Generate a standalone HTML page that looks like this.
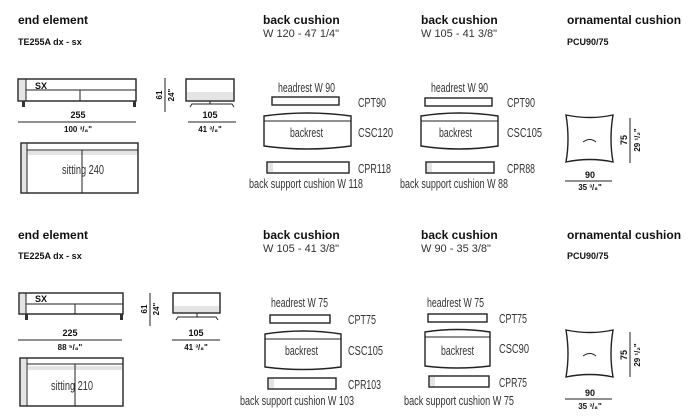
<!DOCTYPE html>
<html><head><meta charset="utf-8"><style>
html,body{margin:0;padding:0;background:#fff;}
svg{display:block;font-family:"Liberation Sans",Arial,sans-serif;}
.b{font-weight:bold;fill:#111;}
.n{fill:#333;}
.s{stroke:#222;fill:#fff;stroke-width:1.4;}
.g{fill:#e4e4e4;stroke:none;}
.l{stroke:#222;stroke-width:1;fill:none;}
</style></head><body>
<svg width="693" height="416" viewBox="0 0 693 416">
<text x="18" y="24" class="b" font-size="12">end element</text>
<text x="18" y="45" class="b" font-size="9">TE255A dx - sx</text>
<text x="263" y="24" class="b" font-size="12">back cushion</text>
<text x="263" y="37" class="n" font-size="11">W 120 - 47 1/4"</text>
<text x="421" y="24" class="b" font-size="12">back cushion</text>
<text x="421" y="37" class="n" font-size="11">W 105 - 41 3/8"</text>
<text x="567" y="24" class="b" font-size="12">ornamental cushion</text>
<text x="567" y="45" class="b" font-size="9">PCU90/75</text>

<rect x="18" y="79" width="118" height="22" class="s"/>
<rect x="19" y="80" width="7" height="20" class="g"/>
<line x1="26" y1="79" x2="26" y2="101" class="l"/>
<line x1="26" y1="90" x2="136" y2="90" class="l"/>
<line x1="80" y1="90" x2="80" y2="101" class="l" stroke-width="1.5"/>
<rect x="22" y="101" width="3" height="6" fill="#333"/><rect x="133" y="101" width="3" height="6" fill="#333"/>
<text x="35" y="89" class="b" font-size="9">SX</text>
<text x="78" y="118" class="b" font-size="9" text-anchor="middle">255</text>
<line x1="18" y1="122" x2="136" y2="122" class="l"/>
<text x="78" y="132" class="b" font-size="8" text-anchor="middle">100 ³/₈"</text>
<rect x="186" y="79" width="48" height="22" class="s"/>
<rect x="187" y="92" width="46" height="8" class="g"/>
<path d="M190 107 L192 104 L232 104 L234 107" class="l" stroke-width="1.5"/>
<line x1="210" y1="101" x2="210" y2="104" class="l"/>
<text x="210" y="118" class="b" font-size="9" text-anchor="middle">105</text>
<line x1="188" y1="122" x2="236" y2="122" class="l"/>
<text x="210" y="132" class="b" font-size="8" text-anchor="middle">41 ³/₈"</text>
<line x1="165" y1="78" x2="165" y2="112" class="l"/>
<text transform="translate(162,95) rotate(-90)" class="b" font-size="8" text-anchor="middle">61</text>
<text transform="translate(174,95) rotate(-90)" class="b" font-size="8" text-anchor="middle">24"</text>
<rect x="21" y="143" width="117" height="50" class="s"/>
<rect x="22" y="144" width="5" height="48" class="g"/>
<rect x="28" y="151" width="109" height="4" class="g"/>
<line x1="27" y1="143" x2="27" y2="193" class="l"/>
<line x1="27" y1="150" x2="138" y2="150" class="l"/>
<line x1="82" y1="150" x2="82" y2="193" class="l"/>
<text x="62" y="174" class="n" font-size="12.5" textLength="42" lengthAdjust="spacingAndGlyphs">sitting 240</text>

<text x="278" y="92" class="n" font-size="12.5" textLength="57" lengthAdjust="spacingAndGlyphs">headrest W 90</text>
<rect x="272" y="97" width="67" height="8" class="s" fill="#f2f2f2"/>
<path d="M264 116 Q307 110 351 116 L351 146 Q307 152 264 146 Z" class="s"/>
<line x1="264" y1="121" x2="351" y2="121" class="l"/>
<text x="290" y="137" class="n" font-size="12.5" textLength="33" lengthAdjust="spacingAndGlyphs">backrest</text>
<rect x="267" y="162" width="82" height="11" class="s"/>
<rect x="268" y="163" width="5" height="9" class="g"/>
<text x="358" y="107" class="n" font-size="12.5" textLength="28" lengthAdjust="spacingAndGlyphs">CPT90</text>
<text x="358" y="137" class="n" font-size="12.5" textLength="35" lengthAdjust="spacingAndGlyphs">CSC120</text>
<text x="358" y="173" class="n" font-size="12.5" textLength="33" lengthAdjust="spacingAndGlyphs">CPR118</text>
<text x="249" y="188" class="n" font-size="12.5" textLength="114" lengthAdjust="spacingAndGlyphs">back support cushion W 118</text>
<text x="431" y="92" class="n" font-size="12.5" textLength="57" lengthAdjust="spacingAndGlyphs">headrest W 90</text>
<rect x="425" y="98" width="67" height="8" class="s" fill="#f2f2f2"/>
<path d="M421 116 Q459 110 498 116 L498 146 Q459 152 421 146 Z" class="s"/>
<line x1="421" y1="121" x2="498" y2="121" class="l"/>
<text x="439" y="137" class="n" font-size="12.5" textLength="33" lengthAdjust="spacingAndGlyphs">backrest</text>
<rect x="426" y="162" width="68" height="11" class="s"/>
<rect x="427" y="163" width="5" height="9" class="g"/>
<text x="507" y="107" class="n" font-size="12.5" textLength="28" lengthAdjust="spacingAndGlyphs">CPT90</text>
<text x="507" y="137" class="n" font-size="12.5" textLength="35" lengthAdjust="spacingAndGlyphs">CSC105</text>
<text x="507" y="173" class="n" font-size="12.5" textLength="28" lengthAdjust="spacingAndGlyphs">CPR88</text>
<text x="400" y="188" class="n" font-size="12.5" textLength="108" lengthAdjust="spacingAndGlyphs">back support cushion W 88</text>

<path d="M566 115 Q590 120 613 115 Q609 139 613 162 Q590 157 566 162 Q570 139 566 115 Z" class="s"/>
<path d="M583 142 Q590 137 596 142" class="l" stroke="#bbb"/>
<line x1="630" y1="118" x2="630" y2="163" class="l"/>
<text transform="translate(627,140) rotate(-90)" class="b" font-size="9" text-anchor="middle">75</text>
<text transform="translate(640,140) rotate(-90)" class="b" font-size="8" text-anchor="middle">29 ¹/₂"</text>
<text x="590" y="178" class="b" font-size="9" text-anchor="middle">90</text>
<line x1="565" y1="181" x2="612" y2="181" class="l"/>
<text x="590" y="190" class="b" font-size="8" text-anchor="middle">35 ³/₈"</text>

<text x="18" y="239" class="b" font-size="12">end element</text>
<text x="18" y="259" class="b" font-size="9">TE225A dx - sx</text>
<text x="263" y="239" class="b" font-size="12">back cushion</text>
<text x="263" y="252" class="n" font-size="11">W 105 - 41 3/8"</text>
<text x="421" y="239" class="b" font-size="12">back cushion</text>
<text x="421" y="252" class="n" font-size="11">W 90 - 35 3/8"</text>
<text x="567" y="239" class="b" font-size="12">ornamental cushion</text>
<text x="567" y="259" class="b" font-size="9">PCU90/75</text>

<rect x="19" y="293" width="104" height="21" class="s"/>
<rect x="20" y="294" width="6" height="19" class="g"/>
<line x1="26" y1="293" x2="26" y2="314" class="l"/>
<line x1="26" y1="304" x2="123" y2="304" class="l"/>
<line x1="75" y1="304" x2="75" y2="314" class="l" stroke-width="1.5"/>
<rect x="25" y="314" width="3" height="6" fill="#333"/><rect x="120" y="314" width="3" height="6" fill="#333"/>
<text x="35" y="302" class="b" font-size="9">SX</text>
<text x="70" y="336" class="b" font-size="9" text-anchor="middle">225</text>
<line x1="18" y1="340" x2="122" y2="340" class="l"/>
<text x="70" y="350" class="b" font-size="8" text-anchor="middle">88 ⁵/₈"</text>
<rect x="173" y="293" width="47" height="20" class="s"/>
<rect x="174" y="306" width="45" height="6" class="g"/>
<path d="M176 320 L178 317 L216 317 L218 320" class="l" stroke-width="1.5"/>
<line x1="197" y1="313" x2="197" y2="317" class="l"/>
<text x="196" y="336" class="b" font-size="9" text-anchor="middle">105</text>
<line x1="172" y1="340" x2="220" y2="340" class="l"/>
<text x="196" y="350" class="b" font-size="8" text-anchor="middle">41 ³/₈"</text>
<line x1="150" y1="293" x2="150" y2="326" class="l"/>
<text transform="translate(147,309) rotate(-90)" class="b" font-size="8" text-anchor="middle">61</text>
<text transform="translate(159,309) rotate(-90)" class="b" font-size="8" text-anchor="middle">24"</text>
<rect x="20" y="358" width="103" height="48" class="s"/>
<rect x="21" y="359" width="5" height="46" class="g"/>
<rect x="28" y="366" width="94" height="4" class="g"/>
<line x1="27" y1="358" x2="27" y2="406" class="l"/>
<line x1="27" y1="364" x2="123" y2="364" class="l"/>
<line x1="75" y1="364" x2="75" y2="406" class="l"/>
<text x="51" y="390" class="n" font-size="12.5" textLength="42" lengthAdjust="spacingAndGlyphs">sitting 210</text>

<text x="271" y="307" class="n" font-size="12.5" textLength="57" lengthAdjust="spacingAndGlyphs">headrest W 75</text>
<rect x="270" y="315" width="60" height="8" class="s" fill="#f2f2f2"/>
<path d="M265 334 Q303 328 341 334 L341 367 Q303 372 265 367 Z" class="s"/>
<line x1="265" y1="339" x2="341" y2="339" class="l"/>
<text x="285" y="355" class="n" font-size="12.5" textLength="33" lengthAdjust="spacingAndGlyphs">backrest</text>
<rect x="268" y="378" width="68" height="11" class="s"/>
<rect x="269" y="379" width="5" height="9" class="g"/>
<text x="348" y="324" class="n" font-size="12.5" textLength="28" lengthAdjust="spacingAndGlyphs">CPT75</text>
<text x="348" y="355" class="n" font-size="12.5" textLength="35" lengthAdjust="spacingAndGlyphs">CSC105</text>
<text x="348" y="389" class="n" font-size="12.5" textLength="33" lengthAdjust="spacingAndGlyphs">CPR103</text>
<text x="240" y="405" class="n" font-size="12.5" textLength="114" lengthAdjust="spacingAndGlyphs">back support cushion W 103</text>
<text x="427" y="307" class="n" font-size="12.5" textLength="57" lengthAdjust="spacingAndGlyphs">headrest W 75</text>
<rect x="428" y="314" width="59" height="8" class="s" fill="#f2f2f2"/>
<path d="M425 332 Q457 327 490 332 L490 366 Q457 370 425 366 Z" class="s"/>
<line x1="425" y1="337" x2="490" y2="337" class="l"/>
<text x="441" y="355" class="n" font-size="12.5" textLength="33" lengthAdjust="spacingAndGlyphs">backrest</text>
<rect x="429" y="376" width="60" height="11" class="s"/>
<rect x="430" y="377" width="5" height="9" class="g"/>
<text x="499" y="323" class="n" font-size="12.5" textLength="28" lengthAdjust="spacingAndGlyphs">CPT75</text>
<text x="499" y="353" class="n" font-size="12.5" textLength="30" lengthAdjust="spacingAndGlyphs">CSC90</text>
<text x="499" y="387" class="n" font-size="12.5" textLength="28" lengthAdjust="spacingAndGlyphs">CPR75</text>
<text x="404" y="405" class="n" font-size="12.5" textLength="110" lengthAdjust="spacingAndGlyphs">back support cushion W 75</text>

<path d="M566 330 Q590 335 613 330 Q609 354 613 377 Q590 372 566 377 Q570 354 566 330 Z" class="s"/>
<path d="M583 356 Q590 351 596 356" class="l" stroke="#bbb"/>
<line x1="630" y1="332" x2="630" y2="377" class="l"/>
<text transform="translate(627,355) rotate(-90)" class="b" font-size="9" text-anchor="middle">75</text>
<text transform="translate(640,355) rotate(-90)" class="b" font-size="8" text-anchor="middle">29 ¹/₂"</text>
<text x="590" y="396" class="b" font-size="9" text-anchor="middle">90</text>
<line x1="565" y1="399" x2="612" y2="399" class="l"/>
<text x="590" y="409" class="b" font-size="8" text-anchor="middle">35 ³/₈"</text>
</svg>
</body></html>
